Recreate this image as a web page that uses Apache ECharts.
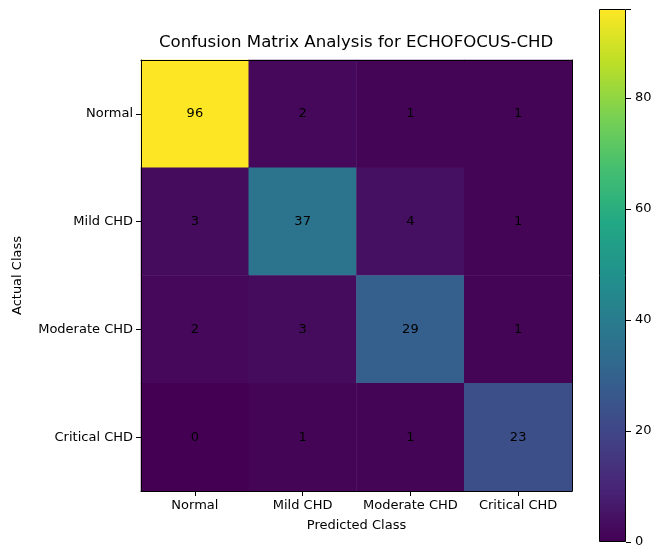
<!DOCTYPE html>
<html>
<head>
<meta charset="utf-8">
<script src="https://cdn.jsdelivr.net/npm/echarts@6/dist/echarts.min.js"></script>
<style>html,body{margin:0;padding:0;background:#fff;}#c{width:663px;height:560px;}</style>
</head>
<body>
<div id="c"></div>
<script>
const predictedClasses = ['Normal', 'Mild CHD', 'Moderate CHD', 'Critical CHD'];
const actualClasses = ['Normal', 'Mild CHD', 'Moderate CHD', 'Critical CHD'];
const rowNormal = [96, 2, 1, 1];
const rowMild = [3, 37, 4, 1];
const rowModerate = [2, 3, 29, 1];
const rowCritical = [0, 1, 1, 23];
const colorbarTicks = [0, 20, 40, 60, 80];
const valueMin = 0;
const valueMax = 96;

const viridis = ['#440154','#482475','#414487','#355f8d','#2a788e','#21918c','#22a884','#44bf70','#7ad151','#bddf26','#fde725'];
const rows = [rowNormal, rowMild, rowModerate, rowCritical];
const heatData = [];
rows.forEach((r, yi) => r.forEach((v, xi) => heatData.push([xi, yi, v])));

const font = 'DejaVu Sans';
const chart = echarts.init(document.getElementById('c'), null, {renderer: 'canvas'});
chart.setOption({
  animation: false,
  textStyle: {fontFamily: font},
  title: {
    text: 'Confusion Matrix Analysis for ECHOFOCUS-CHD',
    left: 159, top: 34, padding: 0,
    textStyle: {fontFamily: font, fontSize: 16.6, fontWeight: 'normal', color: '#000'}
  },
  grid: [
    {left: 141, top: 60, width: 431, height: 431},
    {left: 599, top: 9, width: 27, height: 533}
  ],
  xAxis: [
    {type: 'category', gridIndex: 0, data: predictedClasses, position: 'bottom', z: 10,
     name: 'Predicted Class', nameLocation: 'middle', nameGap: 28,
     nameTextStyle: {fontFamily: font, fontSize: 13, color: '#000'},
     axisLine: {show: true, lineStyle: {color: '#000', width: 1}},
     axisTick: {show: true, alignWithLabel: true, length: 5, lineStyle: {color: '#000'}},
     axisLabel: {fontFamily: font, fontSize: 13, color: '#000', margin: 8, interval: 0},
     splitLine: {show: false}},
    {type: 'category', gridIndex: 0, data: predictedClasses, position: 'top', z: 10,
     axisLine: {show: true, lineStyle: {color: '#000', width: 1}},
     axisTick: {show: false}, axisLabel: {show: false}, splitLine: {show: false}},
    {type: 'category', gridIndex: 1, data: ['bar'], show: false}
  ],
  yAxis: [
    {type: 'category', gridIndex: 0, data: actualClasses, inverse: true, position: 'left', z: 10,
     name: 'Actual Class', nameLocation: 'middle', nameGap: 117, nameRotate: 90,
     nameTextStyle: {fontFamily: font, fontSize: 13, color: '#000'},
     axisLine: {show: true, lineStyle: {color: '#000', width: 1}},
     axisTick: {show: true, alignWithLabel: true, length: 5, lineStyle: {color: '#000'}},
     axisLabel: {fontFamily: font, fontSize: 13, color: '#000', margin: 8, interval: 0},
     splitLine: {show: false}},
    {type: 'category', gridIndex: 0, data: actualClasses, inverse: true, position: 'right', z: 10,
     axisLine: {show: true, lineStyle: {color: '#000', width: 1}},
     axisTick: {show: false}, axisLabel: {show: false}, splitLine: {show: false}},
    {type: 'value', gridIndex: 1, min: valueMin, max: valueMax, interval: 20, position: 'right',
     axisLine: {show: false},
     axisTick: {show: true, length: 5, lineStyle: {color: '#000'}},
     axisLabel: {fontFamily: font, fontSize: 13, color: '#000', margin: 9,
       formatter: v => colorbarTicks.includes(v) ? String(v) : ''},
     splitLine: {show: false}}
  ],
  visualMap: {
    show: false, min: valueMin, max: valueMax, seriesIndex: 0, dimension: 2,
    inRange: {color: viridis}
  },
  series: [
    {type: 'heatmap', xAxisIndex: 0, yAxisIndex: 0, data: heatData,
     label: {show: true, fontFamily: font, fontSize: 13, color: '#000'},
     itemStyle: {borderWidth: 0},
     emphasis: {disabled: true}},
    {type: 'bar', xAxisIndex: 2, yAxisIndex: 2, data: [valueMax], barWidth: '100%',
     silent: true,
     itemStyle: {
       borderColor: '#000', borderWidth: 1,
       color: {type: 'linear', x: 0, y: 1, x2: 0, y2: 0,
         colorStops: viridis.map((c, i) => ({offset: i / (viridis.length - 1), color: c}))}
     }}
  ]
});
</script>
</body>
</html>
